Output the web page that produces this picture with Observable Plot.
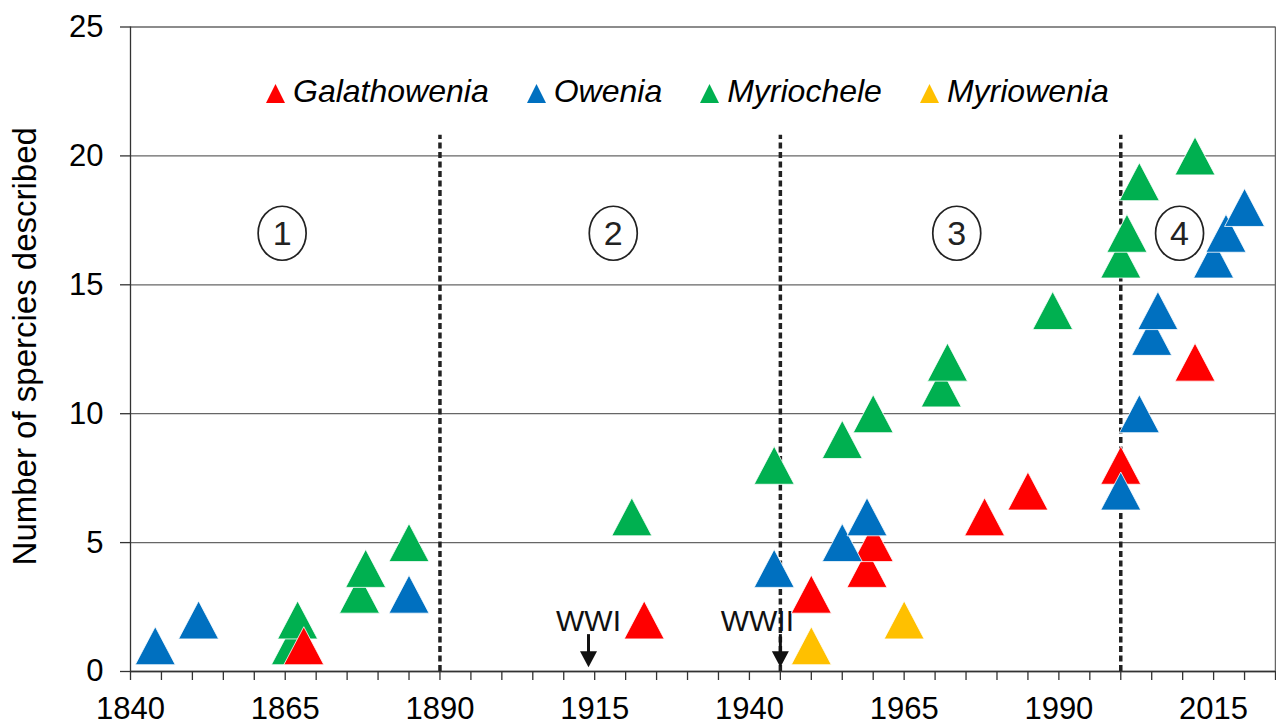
<!DOCTYPE html>
<html><head><meta charset="utf-8">
<script src="https://cdn.jsdelivr.net/npm/d3@7"></script>
<script src="https://cdn.jsdelivr.net/npm/@observablehq/plot@0.6"></script>
<style>
body{margin:0;background:#fff;font-family:"Liberation Sans",Arial,sans-serif;}
#wrap{position:relative;width:1276px;height:724px;}
#legend{position:absolute;top:71px;left:266px;display:flex;align-items:center;gap:38px;font-style:italic;font-size:32px;color:#000;line-height:40px;}
#legend .item{display:flex;align-items:center;gap:8px;}
#legend svg{display:block;margin-top:4px;}
</style></head><body><div id="wrap"><div id="legend"></div><div id="chart"></div></div>
<script>
// ---- data ----
const genera = ["Galathowenia", "Owenia", "Myriochele", "Myriowenia"];
const generaColors = ["#FF0000", "#0070C0", "#00B050", "#FFC000"];

const galathoweniaYears  = [1868, 1923, 1950, 1959, 1960, 1978, 1985, 2000, 2012];
const galathoweniaCounts = [1, 2, 3, 4, 5, 6, 7, 8, 12];

const oweniaYears  = [1844, 1851, 1885, 1944, 1955, 1959, 2000, 2003, 2005, 2006, 2015, 2017, 2020];
const oweniaCounts = [1, 2, 3, 4, 5, 6, 7, 10, 13, 14, 16, 17, 18];

const myriocheleYears  = [1866, 1867, 1877, 1878, 1885, 1921, 1944, 1955, 1960, 1971, 1972, 1989, 2000, 2001, 2003, 2012];
const myriocheleCounts = [1, 2, 3, 4, 5, 6, 8, 9, 10, 11, 12, 14, 16, 17, 19, 20];

const myrioweniaYears  = [1950, 1965];
const myrioweniaCounts = [1, 2];

const periodLabels = ["1", "2", "3", "4"];
const periodYears  = [1864.5, 1918, 1973.5, 2009.5];
const periodLevel  = 17;

const dividerYears = [1890, 1945, 2000];
const warLabels = ["WWI", "WWII"];
const warYears  = [1914, 1945];

const xTickYears = d3.range(1840, 2026, 5);
const xLabelYears = [1840, 1865, 1890, 1915, 1940, 1965, 1990, 2015];
const yTicks = [0, 5, 10, 15, 20, 25];
const yLabel = "Number of spercies described";

// ---- build tables (draw order: Myriochele, Galathowenia, Owenia, Myriowenia) ----
const series = [
  ["Myriochele", myriocheleYears, myriocheleCounts],
  ["Galathowenia", galathoweniaYears, galathoweniaCounts],
  ["Owenia", oweniaYears, oweniaCounts],
  ["Myriowenia", myrioweniaYears, myrioweniaCounts]
];
const rows = series.flatMap(([genus, ys, cs]) => ys.map((year, i) => ({genus, year, count: cs[i]})));
const periods = periodLabels.map((label, i) => ({label, year: periodYears[i], level: periodLevel}));
const wars = warLabels.map((label, i) => ({label, year: warYears[i]}));

// bbox-centred triangle symbol
const tri = (w, h, down = false) => ({
  draw(ctx) {
    const s = down ? -1 : 1;
    ctx.moveTo(0, -s * h / 2);
    ctx.lineTo(w / 2, s * h / 2);
    ctx.lineTo(-w / 2, s * h / 2);
    ctx.closePath();
  }
});
const ellipse = (rx, ry) => ({
  draw(ctx) {
    const k = 0.5523;
    ctx.moveTo(rx, 0);
    ctx.bezierCurveTo(rx, k * ry, k * rx, ry, 0, ry);
    ctx.bezierCurveTo(-k * rx, ry, -rx, k * ry, -rx, 0);
    ctx.bezierCurveTo(-rx, -k * ry, -k * rx, -ry, 0, -ry);
    ctx.bezierCurveTo(k * rx, -ry, rx, -k * ry, rx, 0);
    ctx.closePath();
  }
});

const chart = Plot.plot({
  width: 1276,
  height: 724,
  marginLeft: 130,
  marginRight: 1,
  marginTop: 26.5,
  marginBottom: 53,
  style: {fontFamily: "Liberation Sans, Arial, sans-serif", fontSize: "31px", color: "#000", background: "transparent", overflow: "visible"},
  x: {domain: [1840, 2025]},
  y: {domain: [0, 25]},
  color: {domain: genera, range: generaColors},
  marks: [
    Plot.gridY(yTicks, {stroke: "#666", strokeOpacity: 1, strokeWidth: 1.3}),
    Plot.ruleX([2025], {stroke: "#666", strokeWidth: 1.5}),
    Plot.axisX(xTickYears, {tickSize: 9, tickPadding: 16, stroke: "#333", strokeWidth: 1.3, label: null,
      tickFormat: d => xLabelYears.includes(d) ? String(d) : "", fontSize: 31}),
    Plot.axisY(yTicks, {tickSize: 10, tickPadding: 17, stroke: "#333", strokeWidth: 1.3, label: null, fontSize: 31}),
    Plot.text([yLabel], {frameAnchor: "left", dx: -118, dy: -3, rotate: -90, fontSize: 33, fill: "#000", textAnchor: "middle", lineAnchor: "top"}),
    Plot.ruleY([0], {stroke: "#333", strokeWidth: 1.3}),
    Plot.ruleX([1840], {stroke: "#333", strokeWidth: 1.3}),
    Plot.ruleX(dividerYears, {y1: 0, y2: 20.8, stroke: "#222", strokeWidth: 3.5, strokeDasharray: "6,3.5"}),
    Plot.dot(periods, {x: "year", y: "level", symbol: ellipse(24, 27), fill: "none", stroke: "#222", strokeWidth: 1.7}),
    Plot.text(periods, {x: "year", y: "level", text: "label", fontSize: 34, fill: "#222", dy: 1}),
    Plot.text(wars.slice(0, 1), {x: "year", y: 1.95, text: "label", fontSize: 30, fill: "#111"}),
    Plot.text(wars.slice(1), {x: "year", y: 1.95, text: "label", fontSize: 30, fill: "#111", dx: -23}),
    Plot.ruleX(wars, {x: "year", y1: 1.43, y2: 0.6, stroke: "#111", strokeWidth: 3}),
    Plot.dot(wars, {x: "year", y: 0.48, symbol: tri(17, 16, true), fill: "#111"}),
    Plot.dot(rows, {x: "year", y: "count", fill: "genus", symbol: tri(40, 38), stroke: "white", strokeWidth: 0.8})
  ]
});
document.getElementById("chart").appendChild(chart);

// legend
const legend = document.getElementById("legend");
genera.forEach((g, i) => {
  const item = document.createElement("div");
  item.className = "item";
  item.innerHTML = `<svg width="19" height="19" viewBox="0 0 19 19"><polygon points="9.5,0 19,19 0,19" fill="${generaColors[i]}"/></svg><span>${g}</span>`;
  legend.appendChild(item);
});
</script>
</body></html>
